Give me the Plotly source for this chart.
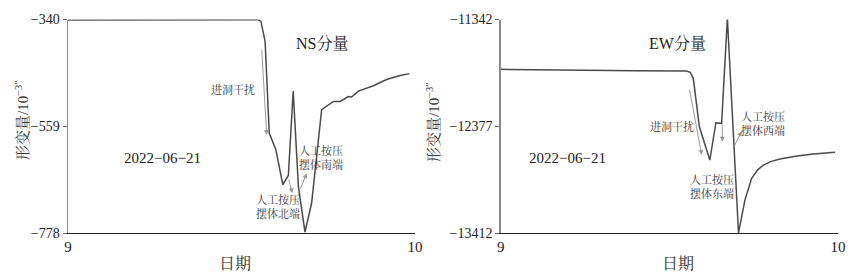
import plotly.graph_objects as go

W, H = 858, 280

# ---- data ----
ns_x = [0, 0.2, 0.4, 0.548, 0.556, 0.568, 0.580, 0.599, 0.619, 0.635, 0.649, 0.664, 0.683, 0.702,
        0.731, 0.765, 0.784, 0.808, 0.817, 0.837, 0.880, 0.918, 0.957, 0.984]
ns_y = [-341, -341, -340.5, -340.3, -344, -385, -573, -607, -679, -660, -487, -683, -776, -717,
        -525, -508, -508, -498, -499, -487, -476, -463, -455, -451]

ew_x = [0, 0.2, 0.4, 0.551, 0.562, 0.571, 0.589, 0.620, 0.638, 0.655, 0.672, 0.705, 0.724, 0.744,
        0.762, 0.779, 0.800, 0.828, 0.878, 0.927, 0.991]
ew_y = [-11825, -11835, -11838, -11842, -11855, -11912, -12382, -12705, -12343, -12349, -11330,
        -13410, -13093, -12882, -12800, -12753, -12720, -12695, -12666, -12646, -12630]

day0 = 9
x_ticks = [9, 10]
x_ticktext = ["9", "10"]
ns_ticks = [-778, -559, -340]
ns_ticktext = ["−778", "−559", "−340"]
ew_ticks = [-13412, -12377, -11342]
ew_ticktext = ["−13412", "−12377", "−11342"]

SERIF = "Liberation Serif, Noto Serif CJK SC, Noto Sans CJK SC, serif"
LINE = "#4a4a4a"

def px(x):
    return x / W

def py(y):
    return 1 - y / H

fig = go.Figure()
fig.add_trace(go.Scatter(x=[day0 + v for v in ns_x], y=ns_y, mode="lines",
                         line=dict(color=LINE, width=1.5), xaxis="x", yaxis="y",
                         showlegend=False, hoverinfo="skip"))
fig.add_trace(go.Scatter(x=[day0 + v for v in ew_x], y=ew_y, mode="lines",
                         line=dict(color=LINE, width=1.5), xaxis="x2", yaxis="y2",
                         showlegend=False, hoverinfo="skip"))

ydom = [py(233), py(19.5)]
common_x = dict(range=[9, 10], tickvals=x_ticks, ticktext=x_ticktext, showline=True,
                linecolor="#222", linewidth=1.3, ticks="inside", ticklen=4, tickcolor="#444",
                showgrid=False, zeroline=False, tickfont=dict(family=SERIF, size=15, color="#222"),
                fixedrange=True, automargin=False)
common_y = dict(showline=True, linecolor="#888", linewidth=1.5, ticks="outside", ticklen=4,
                tickcolor="#666", showgrid=False, zeroline=False, automargin=False,
                fixedrange=True, tickfont=dict(family=SERIF, size=14, color="#222"), domain=ydom)

fig.update_layout(
    template="none",
    width=W, height=H, margin=dict(l=0, r=0, t=0, b=0, pad=0),
    plot_bgcolor="white", paper_bgcolor="white",
    xaxis=dict(domain=[px(68), px(415)], anchor="y", **common_x),
    yaxis=dict(range=[-778, -340], tickvals=ns_ticks, ticktext=ns_ticktext, anchor="x", **common_y),
    xaxis2=dict(domain=[px(500.7), px(838)], anchor="y2", **common_x),
    yaxis2=dict(range=[-13412, -11342], tickvals=ew_ticks, ticktext=ew_ticktext, anchor="x2",
                **common_y),
)

ann = []
def text(x, y, s, size=11, color="#333", angle=0):
    ann.append(dict(x=px(x), y=py(y), xref="paper", yref="paper", text=s, showarrow=False,
                    font=dict(family=SERIF, size=size, color=color), textangle=angle,
                    xanchor="center", yanchor="middle", align="center"))

def arrow(x0, y0, x1, y1):
    ann.append(dict(x=px(x1), y=py(y1), xref="paper", yref="paper", ax=x0 - x1, ay=y0 - y1,
                    axref="pixel", ayref="pixel", text="", showarrow=True, arrowhead=2,
                    arrowsize=1, arrowwidth=1, arrowcolor="#9a9a9a"))

# left panel
text(22, 120, "形变量/10<sup>−3″</sup>", size=15, color="#3a3a3a", angle=-90)
text(235, 263, "日期", size=16, color="#333")
text(322, 43, "NS分量", size=16, color="#222")
text(162, 158, "2022−06−21", size=15, color="#222")
text(233, 89, "进洞干扰")
arrow(261.7, 48.3, 266.7, 135)
text(278, 206, "人工按压<br>摆体北端")
arrow(288.3, 178, 292.3, 193.3)
text(321, 157, "人工按压<br>摆体南端")
arrow(300, 190, 306.7, 173.3)

# right panel
text(433, 122, "形变量/10<sup>−3″</sup>", size=15, color="#3a3a3a", angle=-90)
text(678, 263, "日期", size=16, color="#333")
text(677, 43, "EW分量", size=16, color="#222")
text(567, 158, "2022−06−21", size=15, color="#222")
text(671.7, 126.7, "进洞干扰")
arrow(689.3, 88.3, 701.7, 155)
arrow(722.3, 123.3, 722.3, 141.7)
text(711.7, 186, "人工按压<br>摆体东端")
text(763.3, 123, "人工按压<br>摆体西端")
arrow(734, 146.7, 741.7, 131)

fig.update_layout(annotations=ann)
fig.write_html("out.html", config={"displayModeBar": False, "staticPlot": True},
               post_script="document.body.style.margin='0';document.body.style.overflow='hidden';")
